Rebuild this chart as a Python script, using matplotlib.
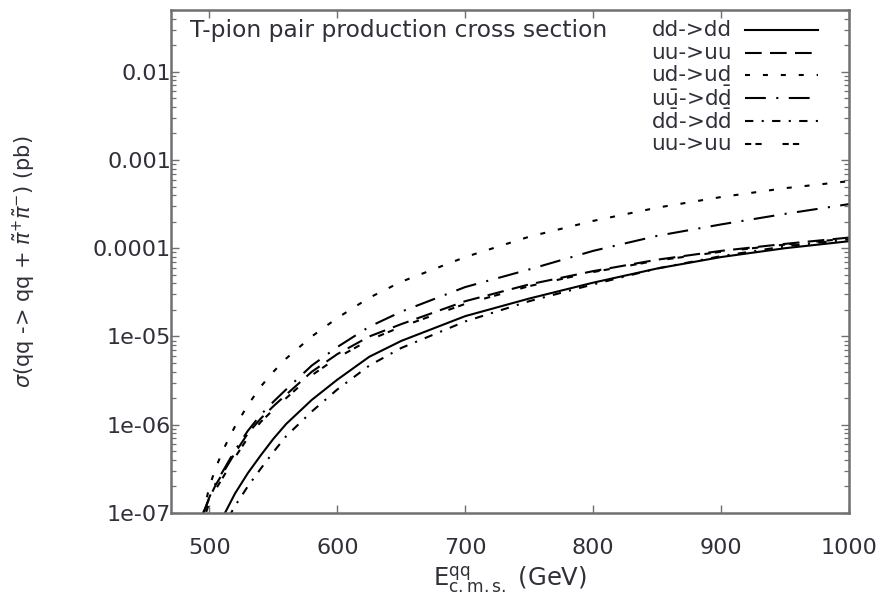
import numpy as np
import matplotlib
matplotlib.use("Agg")
import matplotlib.pyplot as plt
from matplotlib.lines import Line2D

plt.rcParams['font.family'] = ['DejaVu Sans']
plt.rcParams['mathtext.fontset'] = 'dejavusans'

# centre-of-mass energy of the quark pair (GeV)
energy = [495, 500, 505, 510, 515, 520, 530, 540, 550, 560, 580, 600,
          625, 650, 700, 750, 800, 850, 900, 950, 1000]

# cross sections sigma(qq -> qq + pi~+ pi~-) in pb
nan = np.nan
sigma_dd = [nan, nan, nan, 8.71e-8, 1.20e-7, 1.66e-7, 2.82e-7, 4.47e-7, 6.92e-7,
            1.02e-6, 1.91e-6, 3.24e-6, 5.89e-6, 8.91e-6, 1.70e-5, 2.69e-5,
            4.07e-5, 5.89e-5, 7.94e-5, 1.00e-4, 1.20e-4]
sigma_uu = [9.55e-8, 1.48e-7, 2.09e-7, 2.75e-7, 3.63e-7, 4.79e-7, 7.94e-7,
            1.17e-6, 1.62e-6, 2.19e-6, 3.98e-6, 6.31e-6, 1.00e-5, 1.38e-5,
            2.51e-5, 3.89e-5, 5.50e-5, 7.41e-5, 9.33e-5, 1.12e-4, 1.32e-4]
sigma_ud = [9.55e-8, 2.00e-7, 3.24e-7, 4.90e-7, 6.92e-7, 9.55e-7, 1.66e-6,
            2.69e-6, 3.98e-6, 5.62e-6, 1.00e-5, 1.62e-5, 2.75e-5, 4.17e-5,
            7.94e-5, 1.35e-4, 2.04e-4, 2.88e-4, 3.80e-4, 4.79e-4, 5.75e-4]
sigma_uubar = [9.77e-8, 1.51e-7, 2.19e-7, 2.88e-7, 3.85e-7, 5.13e-7, 8.51e-7,
               1.29e-6, 1.82e-6, 2.51e-6, 4.68e-6, 7.59e-6, 1.29e-5, 1.91e-5,
               3.63e-5, 5.75e-5, 9.33e-5, 1.38e-4, 1.86e-4, 2.45e-4, 3.16e-4]
sigma_ddbar = [nan, nan, nan, nan, 8.91e-8, 1.20e-7, 2.00e-7, 3.16e-7, 4.90e-7,
               7.41e-7, 1.41e-6, 2.51e-6, 4.68e-6, 7.41e-6, 1.48e-5, 2.51e-5,
               3.89e-5, 5.89e-5, 8.13e-5, 1.05e-4, 1.26e-4]
sigma_uu2 = [7.94e-8, 1.32e-7, 1.86e-7, 2.45e-7, 3.24e-7, 4.27e-7, 7.08e-7,
             1.07e-6, 1.48e-6, 2.00e-6, 3.63e-6, 5.75e-6, 9.12e-6, 1.29e-5,
             2.34e-5, 3.72e-5, 5.37e-5, 7.24e-5, 9.12e-5, 1.10e-4, 1.29e-4]

labels = ["dd->dd", "uu->uu", "ud->ud",
          r"u$\bar{\mathrm{u}}$->d$\bar{\mathrm{d}}$",
          r"d$\bar{\mathrm{d}}$->d$\bar{\mathrm{d}}$", "uu->uu"]
series = [sigma_dd, sigma_uu, sigma_ud, sigma_uubar, sigma_ddbar, sigma_uu2]
styles = ['-', (0, (8, 4)), (0, (2.4, 6.2)), (0, (10, 5, 1, 5)),
          (0, (4, 4, 1, 4)), (0, (3, 2, 3, 10))]

x_ticks = [500, 600, 700, 800, 900, 1000]
y_ticks = [1e-7, 1e-6, 1e-5, 1e-4, 1e-3, 1e-2]
y_ticklabels = ["1e-07", "1e-06", "1e-05", "0.0001", "0.001", "0.01"]

text_color = '#30303a'
frame_color = '#707070'

fig = plt.figure(figsize=(8.82, 5.96), dpi=100)
ax = fig.add_axes([0.1939, 0.1393, 0.7687, 0.8439])

for y, lab, ls in zip(series, labels, styles):
    ax.plot(energy, y, color='black', linestyle=ls, linewidth=1.5, label=lab)

ax.set_yscale('log')
ax.set_xlim(470, 1000)
ax.set_ylim(1e-7, 0.05)
ax.set_xticks(x_ticks)
ax.set_xticklabels([str(v) for v in x_ticks])
ax.set_yticks(y_ticks)
ax.set_yticklabels(y_ticklabels)
ax.xaxis.set_minor_locator(matplotlib.ticker.NullLocator())
ax.yaxis.set_minor_locator(matplotlib.ticker.LogLocator(base=10, subs=np.arange(2, 10)))
ax.yaxis.set_minor_formatter(matplotlib.ticker.NullFormatter())

ax.tick_params(which='both', direction='in', top=True, right=True,
               colors=frame_color, labelcolor=text_color, labelsize=16)
ax.tick_params(axis='x', pad=18)
ax.tick_params(axis='y', pad=0)
ax.tick_params(which='major', length=6, width=1.0)
ax.tick_params(which='minor', length=3.5, width=0.9)
for s in ax.spines.values():
    s.set_color(frame_color)
    s.set_linewidth(1.8)

ax.set_xlabel(r"E$^{\mathrm{qq}}_{\mathrm{c.m.s.}}$ (GeV)", fontsize=17.5,
              color=text_color, labelpad=4)
ax.set_ylabel(r"$\sigma$(qq -> qq + $\tilde{\pi}^{+}\tilde{\pi}^{-}$) (pb)",
              fontsize=15, color=text_color)
ax.yaxis.set_label_coords(-0.197, 0.5)

ax.text(0.028, 0.960, "T-pion pair production cross section", transform=ax.transAxes,
        fontsize=16.8, color=text_color, ha='left', va='center')

# key: label text right-aligned, line sample to its right
row_y = [0.960, 0.915, 0.870, 0.825, 0.779, 0.734]
for yy, lab, ls in zip(row_y, labels, styles):
    ax.text(0.827, yy, lab, transform=ax.transAxes, fontsize=15.5,
            color=text_color, ha='right', va='center')
    ax.add_line(Line2D([0.847, 0.954], [yy, yy], transform=ax.transAxes,
                       color='black', linestyle=ls, linewidth=1.5))

fig.savefig("out.png", dpi=100)
